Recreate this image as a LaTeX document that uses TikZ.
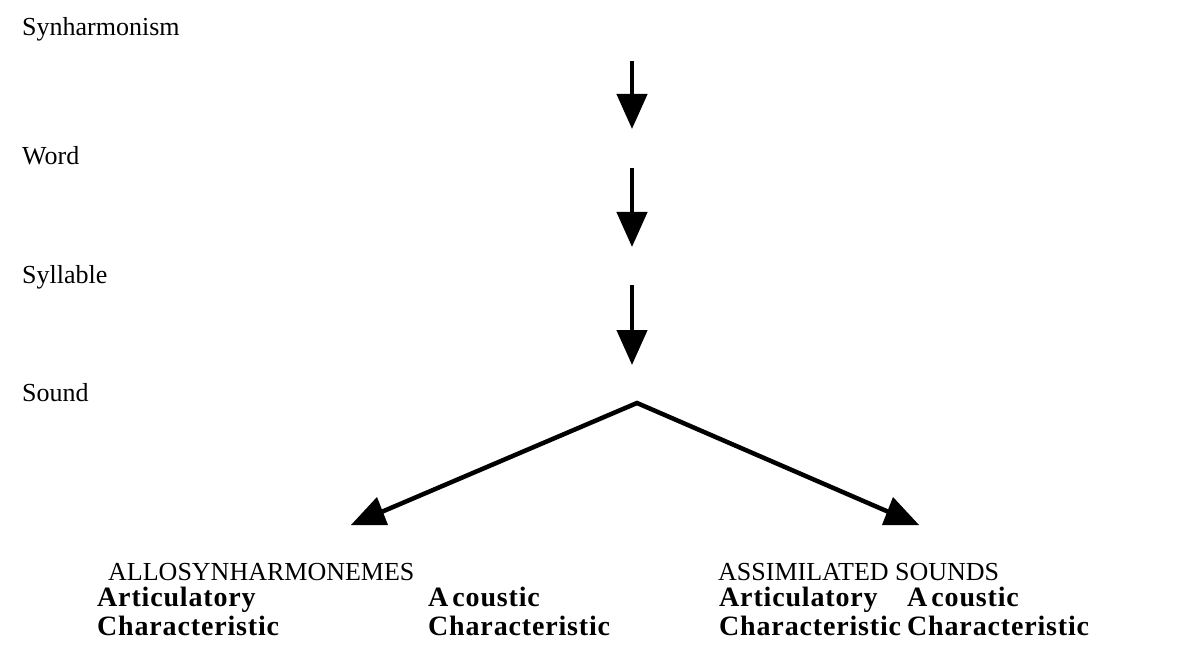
\documentclass[tikz,border=0pt]{standalone}
\usepackage{fontspec}
\setmainfont{Liberation Serif}
\newfontfamily\bsp[LetterSpace=3]{Liberation Serif}
\usetikzlibrary{arrows.meta}
\begin{document}
\begin{tikzpicture}[x=1pt,y=-1pt,
  lbl/.style={anchor=base west,inner sep=0pt,font=\fontsize{26}{30}\selectfont},
  blbl/.style={anchor=base west,inner sep=0pt,font=\fontsize{28}{30}\selectfont\bsp\bfseries},
  varrow/.style={line width=4.5pt,-{Triangle[width=30pt,length=35pt]}},
  dline/.style={line width=4.5pt},
  head/.style={fill=black}]
\useasboundingbox (0,0) rectangle (1198,652);
% level labels
\node[lbl] (syn) at (22,36) {Synharmonism};
\node[lbl] (word) at (22,165) {Word};
\node[lbl] (syl) at (22,283) {Syllable};
\node[lbl] (snd) at (22,401) {Sound};
% vertical arrows
\coordinate (a1s) at (632,61);
\coordinate (a1e) at (632,129);
\coordinate (a2s) at (632,168);
\coordinate (a2e) at (632,247);
\coordinate (a3s) at (632,285);
\coordinate (a3e) at (632,365);
\draw[varrow] (a1s) -- (a1e);
\draw[varrow] (a2s) -- (a2e);
\draw[varrow] (a3s) -- (a3e);
% branches
\coordinate (apex) at (637,403);
\coordinate (lend) at (372,516);
\coordinate (rend) at (898,516);
\draw[dline,line join=miter] (lend) -- (apex) -- (rend);
\fill[head] (377,497) -- (388,525) -- (351,525) -- cycle;
\fill[head] (893,497) -- (882,525) -- (919,525) -- cycle;
% bottom groups
\node[lbl] (allo) at (108,580) {ALLOSYNHARMONEMES};
\node[blbl] (lart) at (97,606) {Articulatory};
\node[blbl] (lch1) at (97,635) {Characteristic};
\node[blbl] (lac) at (428,606) {A\kern4pt coustic};
\node[blbl] (lch2) at (428,635) {Characteristic};
\node[lbl] (assim) at (718,580) {ASSIMILATED SOUNDS};
\node[blbl] (rart) at (719,606) {Articulatory};
\node[blbl] (rch1) at (719,635) {Characteristic};
\node[blbl] (rac) at (907,606) {A\kern4pt coustic};
\node[blbl] (rch2) at (907,635) {Characteristic};
\end{tikzpicture}
\end{document}
